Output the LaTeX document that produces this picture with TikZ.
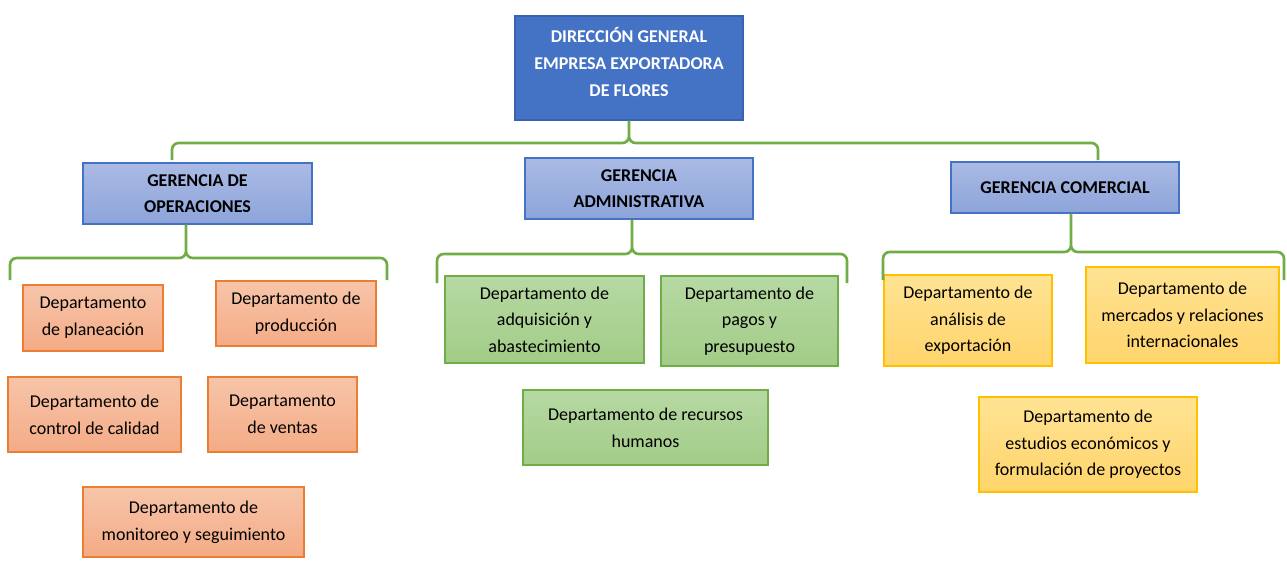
\documentclass[tikz,border=0pt]{standalone}
\usepackage{fontspec}
\setmainfont{Carlito}
\definecolor{dirblue}{HTML}{4472C4}
\definecolor{dirline}{HTML}{3A63AD}
\definecolor{gertop}{HTML}{AABAE4}
\definecolor{gerbot}{HTML}{8DA4DA}
\definecolor{optop}{HTML}{F7C5A9}
\definecolor{opbot}{HTML}{F4AB86}
\definecolor{opline}{HTML}{ED7D31}
\definecolor{admtop}{HTML}{B6D9A3}
\definecolor{admbot}{HTML}{A2CC87}
\definecolor{admline}{HTML}{70AD47}
\definecolor{comtop}{HTML}{FFE393}
\definecolor{combot}{HTML}{FFD46B}
\definecolor{comline}{HTML}{FFC000}
\tikzset{
  base/.style={draw, line width=0.9pt, align=center, inner sep=2pt,
    font=\fontsize{13.5}{20}\selectfont},
  dirbox/.style={base, fill=dirblue, draw=dirline, text=white,
    font=\fontsize{13.5}{20}\selectfont\bfseries},
  gerbox/.style={base, top color=gertop, bottom color=gerbot, draw=dirblue,
    font=\fontsize{13.5}{20}\selectfont\bfseries},
  opbox/.style={base, top color=optop, bottom color=opbot, draw=opline},
  admbox/.style={base, top color=admtop, bottom color=admbot, draw=admline},
  combox/.style={base, top color=comtop, bottom color=combot, draw=comline},
  boxdim/.style 2 args={minimum width=#1*0.75pt, minimum height=#2*0.75pt},
  brace/.style={draw=admline, line width=2pt, rounded corners=5pt}
}
\begin{document}
\begin{tikzpicture}[x=0.75pt, y=-0.75pt]
\useasboundingbox (0,0) rectangle (1287,560);

\node[dirbox, boxdim={228}{104}, text depth=9pt] (dir) at (629,68) {DIRECCIÓN GENERAL\\EMPRESA EXPORTADORA\\DE FLORES};

\node[gerbox, boxdim={229}{61}] (gop)  at (197.5,193.5) {GERENCIA DE\\OPERACIONES};
\node[gerbox, boxdim={228}{61}] (gadm) at (639,188.5)   {GERENCIA\\ADMINISTRATIVA};
\node[gerbox, boxdim={228}{51}] (gcom) at (1065,187.5)  {GERENCIA COMERCIAL};

\node[opbox, boxdim={140}{66}] (planeacion) at (93,318)     {Departamento\\de planeación};
\node[opbox, boxdim={160}{65}] (produccion) at (296,313.5)  {Departamento de\\producción};
\node[opbox, boxdim={173}{75}] (calidad)    at (94.5,414.5) {Departamento de\\control de calidad};
\node[opbox, boxdim={149}{75}] (ventas)     at (282.5,414.5){Departamento\\de ventas};
\node[opbox, boxdim={221}{70}] (monitoreo)  at (193.5,522)  {Departamento de\\monitoreo y seguimiento};

\node[admbox, boxdim={199}{87}] (adquisicion) at (544.5,319.5) {Departamento de\\adquisición y\\abastecimiento};
\node[admbox, boxdim={177}{90}] (pagos)       at (749.5,321)   {Departamento de\\pagos y\\presupuesto};
\node[admbox, boxdim={245}{75}] (rrhh)        at (645.5,427.5) {Departamento de recursos\\humanos};

\node[combox, boxdim={168}{91}] (analisis) at (968,320.5)  {Departamento de\\análisis de\\exportación};
\node[combox, boxdim={193}{96}] (mercados) at (1182.5,315) {Departamento de\\mercados y relaciones\\internacionales};
\node[combox, boxdim={218}{95}] (estudios) at (1088,444.5) {Departamento de\\estudios económicos y\\formulación de proyectos};

\coordinate (h0) at (0,143);   \coordinate (b0l) at (172,160);  \coordinate (b0r) at (1098,160);
\coordinate (h1) at (0,258);   \coordinate (b1l) at (10,280);   \coordinate (b1r) at (387,280);
\coordinate (h2) at (0,254);   \coordinate (b2l) at (437,283);  \coordinate (b2r) at (847,283);
\coordinate (h3) at (0,252);   \coordinate (b3l) at (883,280);  \coordinate (b3r) at (1284,280);

\draw[brace] (b0l) |- (dir.south |- h0) -- (dir.south)
             (b0r) |- (dir.south |- h0) -- (dir.south);
\draw[brace] (b1l) |- ([xshift=-8.6pt]gop.south |- h1) -- ([xshift=-8.6pt]gop.south)
             (b1r) |- ([xshift=-8.6pt]gop.south |- h1) -- ([xshift=-8.6pt]gop.south);
\draw[brace] (b2l) |- ([xshift=-5.2pt]gadm.south |- h2) -- ([xshift=-5.2pt]gadm.south)
             (b2r) |- ([xshift=-5.2pt]gadm.south |- h2) -- ([xshift=-5.2pt]gadm.south);
\draw[brace] (b3l) |- ([xshift=4.5pt]gcom.south |- h3) -- ([xshift=4.5pt]gcom.south)
             (b3r) |- ([xshift=4.5pt]gcom.south |- h3) -- ([xshift=4.5pt]gcom.south);
\end{tikzpicture}
\end{document}
